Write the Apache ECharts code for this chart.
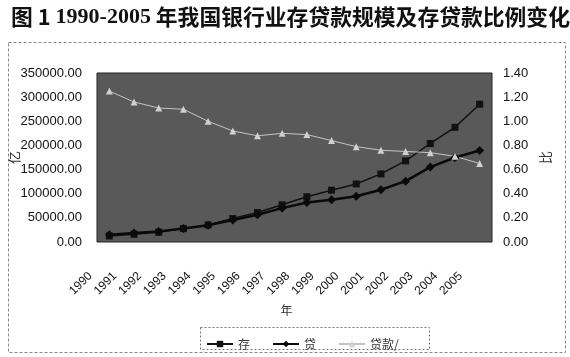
<!DOCTYPE html>
<html>
<head>
<meta charset="utf-8">
<script src="https://cdn.jsdelivr.net/npm/echarts@6/dist/echarts.min.js"></script>
<style>
html,body{margin:0;padding:0;background:#fff;}
#c{width:570px;height:357px;}
</style>
</head>
<body>
<div id="c"></div>
<script>
var years = ['1990','1991','1992','1993','1994','1995','1996','1997','1998','1999','2000','2001','2002','2003','2004','2005'];
var deposits = [12500, 16000, 20200, 27700, 35400, 48500, 61000, 77000, 93700, 107300, 120200, 141000, 168000, 204000, 237500, 285400];
var loans = [15000, 18500, 22000, 28000, 34500, 45500, 56500, 70200, 81900, 87500, 94800, 108300, 126000, 155200, 175000, 189600];
var ratio = [1.25, 1.16, 1.11, 1.10, 1.00, 0.92, 0.88, 0.90, 0.89, 0.84, 0.79, 0.76, 0.75, 0.74, 0.71, 0.65];
var seriesNames = ['存', '贷', '贷款/'];

var chart = echarts.init(document.getElementById('c'));
chart.setOption({
  animation: false,
  backgroundColor: '#ffffff',
  title: {
    left: 6, top: 1,
    text: '{a|图 1 }{b|1990-2005}{a| 年我国银行业存贷款规模及存贷款比例变化}',
    textStyle: {
      rich: {
        a: {fontFamily: 'Noto Sans CJK SC', fontWeight: 'bold', fontSize: 21.8, color: '#111'},
        b: {fontFamily: 'Liberation Serif', fontWeight: 'bold', fontSize: 22, color: '#111'}
      }
    }
  },
  graphic: [
    {type: 'rect', shape: {x: 8.5, y: 42.5, width: 557, height: 310}, style: {fill: 'none', stroke: '#888', lineWidth: 1, lineDash: [3, 2]}, z: -1},
    {type: 'rect', shape: {x: 200.5, y: 327.5, width: 229, height: 22}, style: {fill: 'none', stroke: '#777', lineWidth: 1, lineDash: [2, 2]}, z: -1}
  ],
  grid: {
    left: 97, top: 73, right: 78, bottom: 115,
    containLabel: false, outerBoundsMode: 'none',
    show: true, backgroundColor: '#595959', borderColor: '#222', borderWidth: 1
  },
  legend: {
    left: 201, top: 333,
    itemWidth: 26, itemHeight: 8, itemGap: 22,
    textStyle: {fontFamily: 'Noto Sans CJK SC', fontSize: 12, color: '#333'},
    data: seriesNames
  },
  xAxis: {
    type: 'category', data: years, boundaryGap: true,
    axisLine: {show: false}, axisTick: {show: false},
    axisLabel: {rotate: 45, interval: 0, margin: 13, padding: [0, 27, 0, 0], fontFamily: 'Liberation Sans', fontSize: 12, color: '#111'},
    name: '年', nameLocation: 'middle', nameGap: 62, nameMoveOverlap: false,
    nameTextStyle: {fontFamily: 'Noto Sans CJK SC', fontSize: 12, color: '#333', padding: [0, 16, 0, 0]}
  },
  yAxis: [
    {
      type: 'value', min: 0, max: 350000, interval: 50000,
      axisLine: {show: false}, axisTick: {show: false}, splitLine: {show: false},
      axisLabel: {margin: 15, fontFamily: 'Liberation Sans', fontSize: 13, color: '#111', formatter: function (v) { return v.toFixed(2); }},
      name: '亿', nameLocation: 'middle', nameGap: 76, nameRotate: 90, nameMoveOverlap: false,
      nameTextStyle: {fontFamily: 'Noto Sans CJK SC', fontSize: 13, color: '#333'}
    },
    {
      type: 'value', min: 0, max: 1.4, interval: 0.2, position: 'right',
      axisLine: {show: false}, axisTick: {show: false}, splitLine: {show: false},
      axisLabel: {margin: 11, fontFamily: 'Liberation Sans', fontSize: 13, color: '#111', formatter: function (v) { return v.toFixed(2); }},
      name: '比', nameLocation: 'middle', nameGap: 47, nameRotate: 90, nameMoveOverlap: false,
      nameTextStyle: {fontFamily: 'Noto Sans CJK SC', fontSize: 13, color: '#333'}
    }
  ],
  series: [
    {
      name: seriesNames[0], type: 'line', data: deposits, yAxisIndex: 0,
      symbol: 'rect', symbolSize: 7,
      lineStyle: {color: '#111', width: 1.5}, itemStyle: {color: '#111'}
    },
    {
      name: seriesNames[1], type: 'line', data: loans, yAxisIndex: 0,
      symbol: 'diamond', symbolSize: 9,
      lineStyle: {color: '#0a0a0a', width: 2.5}, itemStyle: {color: '#0a0a0a'}
    },
    {
      name: seriesNames[2], type: 'line', data: ratio, yAxisIndex: 1,
      symbol: 'triangle', symbolSize: 7,
      lineStyle: {color: '#c4c4c4', width: 1}, itemStyle: {color: '#d0d0d0'}
    }
  ]
});
</script>
</body>
</html>
